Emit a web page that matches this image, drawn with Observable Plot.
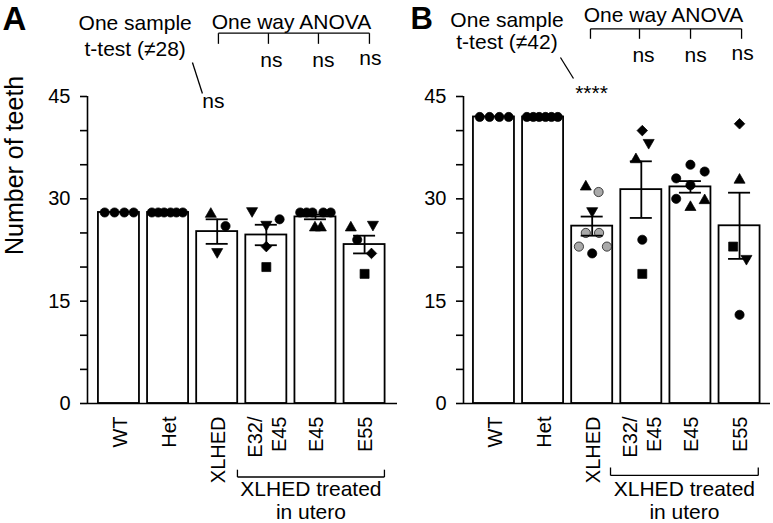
<!DOCTYPE html>
<html><head><meta charset="utf-8">
<script src="https://cdn.jsdelivr.net/npm/d3@7"></script>
<script src="https://cdn.jsdelivr.net/npm/@observablehq/plot@0.6"></script>
<style>
body{margin:0;background:#fff;}
#wrap{position:relative;width:773px;height:523px;overflow:hidden;background:#fff;}
#wrap > svg{position:absolute;top:0;}
</style></head><body><div id="wrap"></div>
<script>
// ---- categories & ticks ----
const groups = ["WT", "Het", "XLHED", "E32/\nE45", "E45", "E55"];
const yTicks = [0, 5, 10, 15, 20, 25, 30, 35, 40, 45];
const yTickLabels = [0, 15, 30, 45];

// ---- Panel A (bars: mean ± SEM) ----
const meanA = [28, 28, 25.2, 24.7, 27.35, 23.3];
const semA  = [0, 0, 1.8, 1.5, 0.35, 1.3];
// individual animals, panel A
const ptGroupA = [0,0,0,0, 1,1,1,1,1,1, 2,2,2, 3,3,3,3,3, 4,4,4,4,4,4,4, 5,5,5,5,5];
const ptValueA = [28,28,28,28, 28,28,28,28,28,28, 28,26,22, 28,27,26,23,20, 28,28,28,28,28,26,26, 26,26,24,22,19];
const ptShapeA = ["●","●","●","●", "●","●","●","●","●","●", "▲","●","▼", "▼","●","▼","◆","■", "●","●","●","●","●","▲","▲", "▲","▼","●","◆","■"];
const ptFillA  = ptValueA.map(() => "black");
// horizontal scatter of the points inside each bar (in category units)
const jitterA  = [-0.29,-0.09,0.11,0.3, -0.33,-0.2,-0.08,0.05,0.17,0.3, -0.13,0.17,0, -0.29,0.27,0,0,0, -0.31,-0.18,-0.06,0.16,0.31,-0.01,0.11, -0.28,0.17,-0.15,0.14,0];

// ---- Panel B ----
const meanB = [42, 42, 26.0, 31.35, 31.75, 26.05];
const semB  = [0, 0, 1.4, 4.15, 0.85, 4.85];
const ptGroupB = [0,0,0,0, 1,1,1,1,1,1, 2,2,2,2,2,2,2,2, 3,3,3,3,3, 4,4,4,4,4,4,4, 5,5,5,5,5];
const ptValueB = [42,42,42,42, 42,42,42,42,42,42, 32,31,28,25,25,23,23,22, 40,38,36,24,19, 35,34,33,32,30,29,30, 41,33,23,21,13];
const ptShapeB = ["●","●","●","●", "●","●","●","●","●","●", "▲","●","▼","●","●","●","●","●", "◆","▼","▲","●","■", "●","●","●","●","●","▲","▲", "◆","▲","■","▼","●"];
const G = "#a9a9a9", K = "black";
const ptFillB  = [K,K,K,K, K,K,K,K,K,K, K,G,K,G,G,G,G,K, K,K,K,K,K, K,K,K,K,K,K,K, K,K,K,K,K];
const jitterB  = [-0.29,-0.09,0.11,0.3, -0.33,-0.2,-0.08,0.05,0.17,0.3, -0.13,0.13,0,-0.13,0.14,-0.27,0.3,0, 0.02,0.15,-0.11,0.02,0.02, 0,0.29,-0.29,0,-0.29,0,0.29, 0,0,-0.13,0.14,0];

// ---- annotation texts ----
const annTextA = [
  {x: 0.33, y: 54.68, t: "One sample"},
  {x: 0.33, y: 50.87, t: "t-test (≠28)"},
  {x: 1.923, y: 43.26, t: "ns"},
  {x: 3.511, y: 54.92, t: "One way ANOVA"},
  {x: 3.104, y: 49.3, t: "ns"}, {x: 4.162, y: 49.3, t: "ns"}, {x: 5.119, y: 49.6, t: "ns"},
  {x: 3.908, y: -13.49, t: "XLHED treated"}, {x: 3.908, y: -16.9, t: "in utero"}
];
const annLinesA = [
  {x1: 1.496, y1: 49.98, x2: 1.699, y2: 45.44},
  {x1: 2.025, y1: 54.28, x2: 5.099, y2: 54.28},
  {x1: 2.025, y1: 54.28, x2: 2.025, y2: 52.72},
  {x1: 3.043, y1: 54.28, x2: 3.043, y2: 52.72},
  {x1: 4.061, y1: 54.28, x2: 4.061, y2: 52.72},
  {x1: 5.099, y1: 54.28, x2: 5.099, y2: 52.72},
  {x1: 2.412, y1: -10.77, x2: 5.404, y2: -10.77},
  {x1: 2.412, y1: -10.77, x2: 2.412, y2: -9.7},
  {x1: 5.404, y1: -10.77, x2: 5.404, y2: -9.7}
];
const annTextB = [
  {x: 0.265, y: 55.16, t: "One sample"},
  {x: 0.265, y: 52.03, t: "t-test (≠42)"},
  {x: 1.986, y: 44.49, t: "****"},
  {x: 3.452, y: 55.89, t: "One way ANOVA"},
  {x: 3.045, y: 50.03, t: "ns"}, {x: 4.104, y: 50.03, t: "ns"}, {x: 5.061, y: 50.28, t: "ns"},
  {x: 3.877, y: -13.49, t: "XLHED treated"}, {x: 3.877, y: -16.9, t: "in utero"}
];
const annLinesB = [
  {x1: 1.354, y1: 50.72, x2: 1.619, y2: 47.64},
  {x1: 1.965, y1: 54.92, x2: 5.041, y2: 54.92},
  {x1: 1.965, y1: 54.92, x2: 1.965, y2: 53.46},
  {x1: 2.963, y1: 54.92, x2: 2.963, y2: 53.46},
  {x1: 4.002, y1: 54.92, x2: 4.002, y2: 53.46},
  {x1: 5.041, y1: 54.92, x2: 5.041, y2: 53.46},
  {x1: 2.373, y1: -10.55, x2: 5.381, y2: -10.55},
  {x1: 2.373, y1: -10.55, x2: 2.373, y2: -9.38},
  {x1: 5.381, y1: -10.55, x2: 5.381, y2: -9.38}
];

// ---- custom symbols ----
const symSquare = {draw(c, size) { const r = Math.sqrt(size / Math.PI) * 0.98; c.rect(-r, -r, 2 * r, 2 * r); }};
const symTri = {draw(c, size) { const r = Math.sqrt(size / Math.PI); const w = r * 1.2, h = r * 1.05;
  c.moveTo(0, -h); c.lineTo(w, h); c.lineTo(-w, h); c.closePath(); }};
const symInv = {draw(c, size) { const r = Math.sqrt(size / Math.PI); const w = r * 1.2, h = r * 1.05;
  c.moveTo(0, h); c.lineTo(w, -h); c.lineTo(-w, -h); c.closePath(); }};
const symDia = {draw(c, size) { const r = Math.sqrt(size / Math.PI) * 1.15;
  c.moveTo(0, -r); c.lineTo(r, 0); c.lineTo(0, r); c.lineTo(-r, 0); c.closePath(); }};

const font = "'Liberation Sans', Arial, Helvetica, sans-serif";
const hw = 0.4175, cw = 0.224;

function panel(cfg) {
  const bars = cfg.means.map((m, i) => ({i, m, s: cfg.sems[i]}));
  const errs = bars.filter(d => d.s > 0);
  const pts = cfg.pv.map((v, k) => ({x: cfg.pg[k] + cfg.pj[k], v, shape: cfg.ps[k], fill: cfg.pf[k]}));
  const marks = [
    Plot.rect(bars, {x1: d => d.i - hw, x2: d => d.i + hw, y1: 0, y2: "m", fill: "white", stroke: "black", strokeWidth: 1.8}),
    Plot.dot(pts, {x: "x", y: "v", symbol: "shape", fill: "fill", stroke: "black", strokeWidth: 0.7, r: 4.6}),
    Plot.ruleX(errs, {x: "i", y1: d => d.m - d.s, y2: d => d.m + d.s, strokeWidth: 1.8}),
    Plot.ruleY(errs, {y: d => d.m + d.s, x1: d => d.i - cw, x2: d => d.i + cw, strokeWidth: 1.8}),
    Plot.ruleY(errs, {y: d => d.m - d.s, x1: d => d.i - cw, x2: d => d.i + cw, strokeWidth: 1.8}),
    Plot.ruleX([cfg.xDomain[0]], {y1: 0, y2: 45, strokeWidth: 1.6}),
    Plot.ruleY([0], {strokeWidth: 1.6}),
    Plot.axisY({ticks: yTicks, tickFormat: d => yTickLabels.includes(d) ? String(d) : "", tickSize: 7, tickPadding: 10, strokeWidth: 1.6, fontSize: 20, label: null}),
    Plot.text(groups, {x: (d, i) => i, text: d => d, frameAnchor: "bottom", dy: 13, rotate: -90, textAnchor: "end", lineAnchor: "middle", lineHeight: 1.2, fontSize: 20}),
    Plot.text(cfg.annText, {x: "x", y: "y", text: "t", textAnchor: "middle", lineAnchor: "bottom", fontSize: 21}),
    Plot.link(cfg.annLines, {x1: "x1", y1: "y1", x2: "x2", y2: "y2", strokeWidth: 1.3}),
    Plot.text([cfg.letter], {x: cfg.letterX, y: cfg.letterY, text: d => d, textAnchor: "start", lineAnchor: "bottom", fontSize: cfg.letterSize, fontWeight: "bold"})
  ];
  if (cfg.yLabel) marks.push(Plot.text([cfg.yLabel], {frameAnchor: "left", rotate: -90, dx: -73, dy: 5, fontSize: 25, text: d => d}));
  const svg = Plot.plot({
    width: cfg.width, height: 523,
    marginTop: 96, marginBottom: 120, marginLeft: cfg.marginLeft, marginRight: cfg.marginRight,
    x: {domain: cfg.xDomain, axis: null},
    y: {domain: [0, 45]},
    symbol: {domain: ["●", "■", "▲", "▼", "◆"], range: [d3.symbolCircle, symSquare, symTri, symInv, symDia]},
    style: {fontFamily: font, fontSize: "20px", background: "transparent", color: "black", overflow: "visible"},
    marks
  });
  svg.style.left = cfg.left + "px";
  return svg;
}

const wrap = document.getElementById("wrap");
wrap.appendChild(panel({
  width: 397, marginLeft: 87, marginRight: 0, xDomain: [-0.64, 5.67], left: 0,
  means: meanA, sems: semA, pg: ptGroupA, pv: ptValueA, ps: ptShapeA, pf: ptFillA, pj: jitterA,
  annText: annTextA, annLines: annLinesA, letter: "A", letterX: -2.37, letterY: 54.68, letterSize: 33, yLabel: "Number of teeth"
}));
wrap.appendChild(panel({
  width: 383, marginLeft: 73, marginRight: 3, xDomain: [-0.62, 5.63], left: 390,
  means: meanB, sems: semB, pg: ptGroupB, pv: ptValueB, ps: ptShapeB, pf: ptFillB, pj: jitterB,
  annText: annTextB, annLines: annLinesB, letter: "B", letterX: -1.70, letterY: 54.9, letterSize: 31, yLabel: null
}));
</script></body></html>
